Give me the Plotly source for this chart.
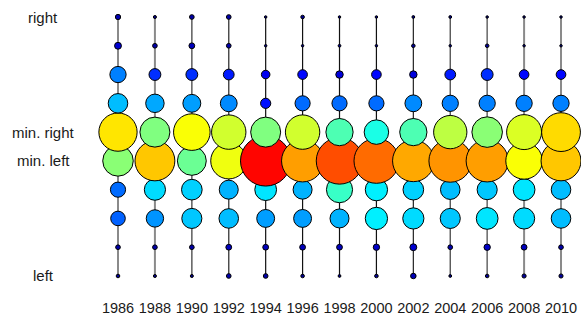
import plotly.graph_objects as go

# Years (columns)
years = [1986, 1988, 1990, 1992, 1994, 1996, 1998, 2000, 2002, 2004, 2006, 2008, 2010]

# Position scale rows, from left (1) to right (10)
positions = [1, 2, 3, 4, 5, 6, 7, 8, 9, 10]
tick_vals = [1, 5, 6, 10]
tick_text = ["left", "min. left", "min. right", "right"]

# Values per year, listed from row 1 (left) to row 10 (right)
v1986 = [2, 4, 22, 23, 51, 65, 31, 25, 8, 5]
v1988 = [1, 4, 27, 34, 68, 50, 29, 17, 4, 1]
v1990 = [1, 4, 32, 33, 48, 62, 28, 17, 6, 4]
v1992 = [4, 6, 31, 30, 61, 58, 26, 15, 4, 4]
v1994 = [4, 6, 28, 35, 87, 50, 14, 11, 0, 0]
v1996 = [2, 6, 28, 30, 72, 58, 23, 13, 0, 2]
v1998 = [0.5, 6, 30, 43, 80, 45, 23, 9, 0.5, 0]
v2000 = [2, 7, 36, 36, 77, 40, 23, 13, 0, 0]
v2002 = [5.5, 8, 34, 33, 71, 45, 26, 9, 2, 0.5]
v2004 = [0.5, 4, 32, 31, 73, 56, 25, 15, 0, 0.5]
v2006 = [2, 7, 35, 32, 72, 51, 25, 17, 2, 0]
v2008 = [3, 6, 34, 35, 62, 59, 25, 13, 0, 0]
v2010 = [3, 4, 31, 31, 68, 66, 25, 13, 0, 0]

values = [v1986, v1988, v1990, v1992, v1994, v1996, v1998,
          v2000, v2002, v2004, v2006, v2008, v2010]

# stem styling per column (style only)
stem_colors = ["#8a8a8a", "#8a8a8a", "#666666", "#444444", "#111111", "#111111",
               "#111111", "#111111", "#222222", "#555555", "#707070", "#8a8a8a", "#8a8a8a"]
stem_widths = [2, 2, 1.6, 1.4, 1.2, 1.2, 1.2, 1.2, 1.2, 1.4, 1.6, 2, 2]

# MATLAB-style jet
jet = [[0.0, "#00007f"], [0.125, "#0000ff"], [0.375, "#00ffff"],
       [0.625, "#ffff00"], [0.875, "#ff0000"], [1.0, "#7f0000"]]

fig = go.Figure()

for yr, col, w in zip(years, stem_colors, stem_widths):
    fig.add_trace(go.Scatter(
        x=[yr, yr], y=[positions[0], positions[-1]], mode="lines",
        line=dict(color=col, width=w), hoverinfo="skip", showlegend=False))

xs, ys, vs = [], [], []
for ri, p in enumerate(positions):
    for yr, vals in zip(years, values):
        xs.append(yr)
        ys.append(p)
        vs.append(vals[ri])

fig.add_trace(go.Scatter(
    x=xs, y=ys, mode="markers",
    marker=dict(
        size=[2.5 + 0.55 * v for v in vs],
        color=vs, colorscale=jet, cmin=0, cmax=100,
        line=dict(color="black", width=1),
        opacity=1,
    ),
    cliponaxis=False, showlegend=False, hoverinfo="skip"))

font_family = "Liberation Sans, Arial, sans-serif"

for tv, tt in zip(tick_vals, tick_text):
    fig.add_annotation(x=-0.0957, xref="paper", y=tv, yref="y", text=tt,
                       showarrow=False, xanchor="center", yanchor="middle",
                       font=dict(family=font_family, size=15, color="#1a1a1a"))

fig.update_layout(
    width=581, height=321,
    margin=dict(l=90, r=0, t=8, b=40),
    paper_bgcolor="white", plot_bgcolor="white",
    font=dict(family=font_family, size=14, color="#1a1a1a"),
    xaxis=dict(range=[1984.483, 2011.083], tickvals=years, ticktext=[str(y) for y in years],
               showgrid=False, zeroline=False, showline=False, ticks="",
               ticklabelstandoff=16, tickfont=dict(size=14.5)),
    yaxis=dict(range=[0.826, 10.3127], showticklabels=False, showgrid=False,
               zeroline=False, showline=False, ticks=""),
)

fig.write_html("out.html", config={"displayModeBar": False},
               post_script="document.body.style.margin='0';document.body.style.overflow='hidden';")
